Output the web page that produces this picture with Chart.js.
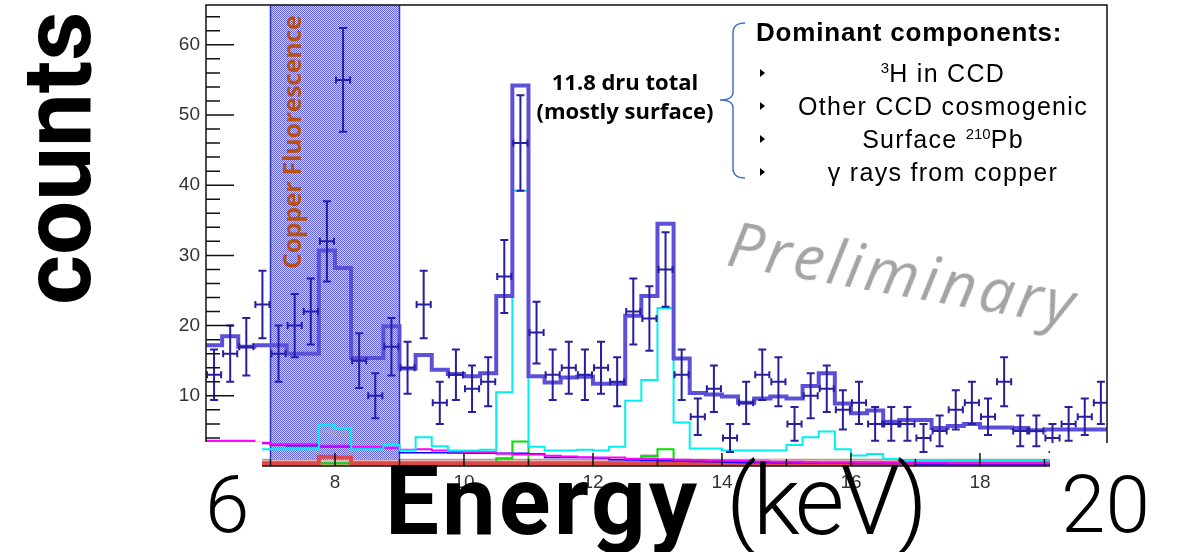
<!DOCTYPE html>
<html>
<head>
<meta charset="utf-8">
<script src="https://cdn.jsdelivr.net/npm/chart.js@4.4.0/dist/chart.umd.min.js"></script>
<style>
body { margin: 0; background: #fff; }
#wrap { position: relative; width: 1181px; height: 552px; overflow: hidden; background: #fff; }
#wrap canvas { position: absolute; left: 0; top: 0; }
.ov { position: absolute; white-space: nowrap; }
.tri { position: absolute; width: 0; height: 0; border-left: 5px solid #000; border-top: 4.5px solid transparent; border-bottom: 4.5px solid transparent; }
.item { position: absolute; left: 793px; width: 300px; text-align: center; font: 25px/25px 'Liberation Sans', Arial, sans-serif; letter-spacing: 1.3px; color: #000; }
.sup { position: relative; top: -9px; font-size: 15px; letter-spacing: 0; }
</style>
</head>
<body>
<div id="wrap">
  <canvas id="chart" width="1181" height="552"></canvas>

  <!-- white boxes pasted over the axis corners -->
  <div class="ov" style="left:195px;top:442px;width:67px;height:110px;background:#fff"></div>
  <div class="ov" style="left:1050px;top:443px;width:131px;height:109px;background:#fff"></div>

  <div class="ov" style="left:9px;top:305px;transform-origin:0 0;transform:rotate(-90deg);font:700 96px/96px Roboto, sans-serif;color:#000">counts</div>

  <div class="ov" style="left:205px;top:465px;font:300 80px/80px Roboto, sans-serif;color:#000">6</div>
  <div class="ov" style="left:1061px;top:465px;font:300 80px/80px Roboto, sans-serif;color:#000">20</div>
  <div class="ov" style="left:385px;top:453px;font:700 96px/96px Roboto, sans-serif;letter-spacing:3px;color:#000">Energy</div>
  <div class="ov" style="left:726px;top:453px;font:300 96px/96px Roboto, sans-serif;letter-spacing:-4px;color:#000">(keV)</div>

  <div class="ov" style="left:279px;top:269px;transform-origin:0 0;transform:rotate(-90deg);font:700 25px/25px 'Open Sans', sans-serif;letter-spacing:-0.3px;color:#b8520f">Copper Fluorescence</div>

  <div class="ov" style="left:725px;top:210px;transform-origin:0 55px;transform:rotate(10deg);font:italic 62px/62px 'Open Sans', sans-serif;letter-spacing:3.5px;color:#a4a4a4">Preliminary</div>

  <div class="ov" style="left:525px;top:67px;width:200px;text-align:center;font:700 22px/29.3px 'Open Sans', sans-serif;color:#000">11.8 dru total<br>(mostly surface)</div>

  <svg class="ov" style="left:0;top:0" width="1181" height="552">
    <path d="M745 23 Q733 23 733 33 L733 92 Q733 100 720 100 Q733 100 733 108 L733 168 Q733 178 745 178" fill="none" stroke="#4472c4" stroke-width="1.5"/>
  </svg>

  <div class="ov" style="left:756px;top:19px;font:700 26px/26px 'Liberation Sans', Arial, sans-serif;letter-spacing:0.8px;color:#000">Dominant components:</div>
  <div class="tri" style="left:760px;top:69px"></div>
  <div class="tri" style="left:760px;top:102px"></div>
  <div class="tri" style="left:760px;top:135px"></div>
  <div class="tri" style="left:760px;top:168px"></div>
  <div class="item" style="top:61px"><span class="sup">3</span>H in CCD</div>
  <div class="item" style="top:94px">Other CCD cosmogenic</div>
  <div class="item" style="top:127px">Surface <span class="sup">210</span>Pb</div>
  <div class="item" style="top:160px">γ rays from copper</div>
</div>

<script>
// bin low edges (keV), 0.25 keV bins
const BIN_LOW = [6.0, 6.25, 6.5, 6.75, 7.0, 7.25, 7.5, 7.75, 8.0, 8.25, 8.5, 8.75, 9.0, 9.25,
  9.5, 9.75, 10.0, 10.25, 10.5, 10.75, 11.0, 11.25, 11.5, 11.75, 12.0, 12.25, 12.5, 12.75,
  13.0, 13.25, 13.5, 13.75, 14.0, 14.25, 14.5, 14.75, 15.0, 15.25, 15.5, 15.75, 16.0, 16.25,
  16.5, 16.75, 17.0, 17.25, 17.5, 17.75, 18.0, 18.25, 18.5, 18.75, 19.0, 19.25, 19.5, 19.75];
const BIN_W = 0.25;

const COUNTS = [13, 16, 17, 23, 16, 20, 22, 32, 55, 15, 10, 17, 14, 23, 9, 13, 11, 12, 27, 46,
  19, 13, 14, 13, 14, 12, 22, 21, 28, 13, 7, 11, 4, 9, 13, 12, 6, 10, 11, 8,
  9, 6, 6, 6, 4, 5, 8, 9, 7, 12, 5, 5, 4, 6, 7, 9];
const COUNT_ERR = [3.6, 4.0, 4.1, 4.8, 4.0, 4.5, 4.7, 5.7, 7.4, 3.9, 3.2, 4.1, 3.7, 4.8, 3.0, 3.6, 3.3, 3.5, 5.2, 6.8,
  4.4, 3.6, 3.7, 3.6, 3.7, 3.5, 4.7, 4.6, 5.3, 3.6, 2.6, 3.3, 2.0, 3.0, 3.6, 3.5, 2.4, 3.2, 3.3, 2.8,
  3.0, 2.4, 2.4, 2.4, 2.0, 2.2, 2.8, 3.0, 2.6, 3.5, 2.2, 2.2, 2.0, 2.4, 2.6, 3.0];

const MODEL_TOTAL = [17.2, 18.5, 17.0, 17.2, 17.2, 16.0, 16.0, 30.7, 28.2, 15.4, 15.4, 19.9, 13.9, 15.8,
  13.7, 13.1, 12.8, 13.2, 24.2, 54.2, 12.8, 11.9, 12.6, 12.7, 11.7, 11.7, 21.4, 24.2,
  34.5, 15.3, 10.4, 10.2, 9.9, 9.0, 9.6, 9.9, 9.6, 11.4, 13.2, 8.9, 7.5, 7.9,
  6.3, 6.55, 6.55, 5.4, 5.7, 6.0, 5.5, 5.5, 5.4, 5.1, 5.2, 5.2, 5.2, 5.2];
const COMP_CYAN = [2.4, 2.4, 2.4, 2.4, 2.4, 2.4, 2.4, 5.8, 5.4, 2.4, 2.4, 3.0, 2.2, 4.1,
  2.8, 2.2, 2.2, 2.3, 10.5, 39.2, 2.75, 2.2, 2.2, 2.3, 2.2, 2.75, 9.3, 12.25,
  22.5, 6.2, 2.5, 2.5, 2.2, 2.2, 2.2, 2.2, 3.0, 4.1, 4.9, 2.4, 1.5, 1.7,
  1.0, 0.8, 0.8, 0.8, 0.8, 0.8, 0.8, 0.8, 0.8, 0.8, 0.8, 0.8, 0.8, 0.8];
const COMP_MAGENTA = [3.6, 3.6, 3.6, 3.3, 3.1, 3.1, 3.1, 2.9, 2.9, 2.75, 2.75, 2.6, 2.3, 2.4,
  2.2, 2.1, 2.0, 1.95, 1.75, 1.65, 1.65, 1.45, 1.35, 1.25, 1.2, 1.2, 1.05, 1.0,
  0.95, 0.9, 0.85, 0.8, 0.75, 0.7, 0.65, 0.6, 0.6, 0.55, 0.5, 0.5, 0.5, 0.5,
  0.45, 0.45, 0.45, 0.45, 0.4, 0.4, 0.4, 0.4, 0.4, 0.4, 0.4, 0.4, 0.4, 0.4];
const COMP_BLUE = [3.4, 3.4, 3.4, 3.2, 3.0, 2.9, 2.9, 2.75, 2.75, 2.4, 2.4, 2.6, 1.9, 1.9,
  1.9, 1.85, 1.8, 1.8, 1.8, 1.8, 1.75, 1.2, 1.2, 1.2, 1.15, 0.9, 0.85, 0.8,
  0.75, 0.7, 0.65, 0.6, 0.55, 0.5, 0.5, 0.45, 0.45, 0.4, 0.4, 0.4, 0.35, 0.35,
  0.35, 0.35, 0.3, 0.3, 0.3, 0.3, 0.3, 0.3, 0.3, 0.3, 0.3, 0.3, 0.3, 0.3];
const COMP_GREEN = [0.4, 0.4, 0.4, 0.4, 0.4, 0.4, 0.4, 0.4, 0.4, 0.4, 0.4, 0.4, 0.4, 0.4,
  0.4, 0.4, 0.4, 0.4, 1.1, 3.5, 0.4, 0.4, 0.4, 0.4, 0.4, 0.4, 0.4, 1.4,
  2.4, 0.4, 0.4, 0.4, 0.4, 0.4, 0.4, 0.4, 0.4, 0.4, 0.4, 0.4, 0.5, 0.4,
  0.5, 0.4, 0.4, 0.4, 0.4, 0.4, 0.4, 0.4, 0.4, 0.4, 0.4, 0.4, 0.4, 0.4];
const COMP_GRAY = [0.9, 0.9, 0.9, 0.9, 0.9, 0.9, 0.9, 4.9, 4.5, 0.9, 0.9, 0.9, 0.9, 0.9,
  0.9, 0.9, 0.9, 0.9, 0.9, 0.9, 0.9, 0.9, 0.9, 0.9, 0.9, 0.9, 0.9, 1.5,
  0.9, 0.9, 0.9, 0.9, 0.9, 0.9, 0.9, 0.9, 0.9, 0.9, 0.9, 0.9, 0.9, 0.9,
  0.9, 0.9, 0.9, 0.9, 0.9, 0.9, 0.9, 0.9, 0.9, 0.9, 0.9, 0.9, 0.9, 0.9];
const COMP_PINK = [0.7, 0.7, 0.7, 0.7, 0.7, 0.7, 0.7, 0.7, 0.7, 0.7, 0.7, 0.7, 0.7, 0.7,
  0.7, 0.7, 0.7, 0.7, 0.7, 0.7, 0.7, 0.7, 0.7, 0.7, 0.7, 0.7, 0.7, 1.2,
  0.7, 0.7, 0.7, 0.7, 0.7, 0.7, 0.7, 0.9, 0.7, 0.7, 0.7, 0.7, 0.7, 0.7,
  0.7, 0.7, 0.7, 0.7, 0.7, 0.7, 0.7, 0.7, 0.7, 0.7, 0.7, 0.7, 0.7, 0.7];
const COMP_RED = [0.4, 0.4, 0.4, 0.4, 0.4, 0.4, 0.4, 1.3, 1.2, 0.4, 0.4, 0.4, 0.4, 0.4,
  0.4, 0.4, 0.4, 0.4, 0.4, 0.4, 0.4, 0.4, 0.4, 0.4, 0.4, 0.4, 0.4, 0.4,
  0.4, 0.4, 0.4, 0.4, 0.4, 0.4, 0.4, 0.4, 0.4, 0.4, 0.4, 0.4, 0.4, 0.4,
  0.4, 0.4, 0.4, 0.4, 0.4, 0.4, 0.4, 0.4, 0.4, 0.4, 0.4, 0.4, 0.4, 0.4];
const COMP_TAN = [0.15, 0.15, 0.15, 0.15, 0.15, 0.15, 0.15, 0.15, 0.15, 0.15, 0.15, 0.15, 0.15, 0.15,
  0.15, 0.15, 0.15, 0.15, 0.15, 0.15, 0.15, 0.15, 0.15, 0.15, 0.15, 0.15, 0.15, 0.15,
  0.15, 0.15, 0.15, 0.15, 0.15, 0.15, 0.15, 0.15, 0.15, 0.15, 0.15, 0.15, 0.15, 0.15,
  0.15, 0.15, 0.15, 0.15, 0.15, 0.15, 0.15, 0.15, 0.15, 0.15, 0.15, 0.15, 0.15, 0.15];

const CU_BAND = [7, 9];
const X_RANGE = [6, 19.97];
const Y_RANGE = [0, 65.67];
const X_TICKS = [8, 10, 12, 14, 16, 18];
const X_MINOR = [7, 9, 11, 13, 15, 17, 19];
const Y_TICKS = [10, 20, 30, 40, 50, 60];
const Y_MINOR = [2, 4, 6, 8, 12, 14, 16, 18, 22, 24, 26, 28, 32, 34, 36, 38, 42, 44, 46, 48, 52, 54, 56, 58, 62, 64];

function histPoints(values) {
    const pts = BIN_LOW.map((x, i) => ({ x: x, y: values[i] }));
    pts.push({ x: BIN_LOW[BIN_LOW.length - 1] + BIN_W, y: values[values.length - 1] });
    return pts;
}

function histLine(values, color, width) {
    return {
        type: 'line', data: histPoints(values), borderColor: color, borderWidth: width,
        stepped: true, pointRadius: 0, fill: false
    };
}

function bandPattern(ctx) {
    const c = document.createElement('canvas');
    c.width = 2; c.height = 2;
    const p = c.getContext('2d');
    p.fillStyle = '#d0d0f8';
    p.fillRect(0, 0, 2, 2);
    p.fillStyle = '#6464e6';
    p.fillRect(0, 0, 1, 1);
    p.fillRect(1, 1, 1, 1);
    return ctx.createPattern(c, 'repeat');
}

const rootStyle = {
    id: 'rootStyle',
    beforeDatasetsDraw(chart) {
        const { ctx, chartArea: a, scales: { x } } = chart;
        const x0 = x.getPixelForValue(CU_BAND[0]);
        const x1 = x.getPixelForValue(CU_BAND[1]);
        ctx.save();
        ctx.fillStyle = bandPattern(ctx);
        ctx.fillRect(x0, a.top, x1 - x0, a.bottom - a.top);
        ctx.strokeStyle = '#3232c8';
        ctx.lineWidth = 1.5;
        ctx.beginPath();
        ctx.moveTo(x0, a.top); ctx.lineTo(x0, a.bottom);
        ctx.moveTo(x1, a.top); ctx.lineTo(x1, a.bottom);
        ctx.stroke();
        ctx.restore();
    },
    afterDatasetsDraw(chart) {
        const { ctx, chartArea: a, scales: { x, y } } = chart;
        ctx.save();

        // data points with error bars
        ctx.beginPath();
        ctx.rect(a.left, a.top, a.right - a.left, a.bottom - a.top);
        ctx.clip();
        ctx.strokeStyle = 'rgb(40,30,160)';
        ctx.lineWidth = 2;
        ctx.beginPath();
        COUNTS.forEach((n, i) => {
            const px = x.getPixelForValue(BIN_LOW[i] + BIN_W / 2);
            const pl = x.getPixelForValue(BIN_LOW[i]) + 1;
            const pr = x.getPixelForValue(BIN_LOW[i] + BIN_W) - 1;
            const py = y.getPixelForValue(n);
            const pt = y.getPixelForValue(n + COUNT_ERR[i]);
            const pb = y.getPixelForValue(n - COUNT_ERR[i]);
            ctx.moveTo(px, pt); ctx.lineTo(px, pb);
            ctx.moveTo(px - 4, pt); ctx.lineTo(px + 4, pt);
            ctx.moveTo(px - 4, pb); ctx.lineTo(px + 4, pb);
            ctx.moveTo(pl, py); ctx.lineTo(pr, py);
            ctx.moveTo(pl, py - 3.5); ctx.lineTo(pl, py + 3.5);
            ctx.moveTo(pr, py - 3.5); ctx.lineTo(pr, py + 3.5);
        });
        ctx.stroke();
        ctx.restore();

        // frame and ticks
        ctx.save();
        ctx.strokeStyle = '#111';
        ctx.lineWidth = 1.5;
        ctx.strokeRect(a.left, a.top, a.right - a.left, a.bottom - a.top);
        ctx.beginPath();
        Y_TICKS.forEach(v => { const py = y.getPixelForValue(v); ctx.moveTo(a.left, py); ctx.lineTo(a.left + 28, py); });
        Y_MINOR.forEach(v => { const py = y.getPixelForValue(v); ctx.moveTo(a.left, py); ctx.lineTo(a.left + 14, py); });
        X_TICKS.forEach(v => { const px = x.getPixelForValue(v); ctx.moveTo(px, a.bottom); ctx.lineTo(px, a.bottom - 13); });
        X_MINOR.forEach(v => { const px = x.getPixelForValue(v); ctx.moveTo(px, a.bottom); ctx.lineTo(px, a.bottom - 7); });
        ctx.stroke();

        ctx.fillStyle = '#333';
        ctx.font = '19px "Liberation Sans", Arial, sans-serif';
        ctx.textAlign = 'right';
        ctx.textBaseline = 'middle';
        Y_TICKS.forEach(v => ctx.fillText(String(v), a.left - 6, y.getPixelForValue(v)));
        ctx.textAlign = 'center';
        ctx.textBaseline = 'top';
        X_TICKS.forEach(v => ctx.fillText(String(v), x.getPixelForValue(v), a.bottom + 7));
        ctx.restore();
    }
};

new Chart(document.getElementById('chart'), {
    type: 'line',
    data: {
        datasets: [
            histLine(MODEL_TOTAL, 'rgb(92,80,216)', 4),
            histLine(COMP_CYAN, '#00f0f0', 2),
            histLine(COMP_MAGENTA, '#ff00ff', 2),
            histLine(COMP_BLUE, '#0000ff', 1.5),
            histLine(COMP_RED, '#dd4848', 4),
            histLine(COMP_GREEN, '#00e000', 2),
            histLine(COMP_PINK, '#e8b4b4', 2),
            histLine(COMP_GRAY, '#a89ca4', 2),
            histLine(COMP_TAN, '#e0a070', 2)
        ]
    },
    options: {
        responsive: false,
        animation: false,
        devicePixelRatio: 1,
        layout: { padding: { left: 206, right: 74, top: 5, bottom: 86 } },
        scales: {
            x: { type: 'linear', min: X_RANGE[0], max: X_RANGE[1], display: false },
            y: { type: 'linear', min: Y_RANGE[0], max: Y_RANGE[1], display: false }
        },
        plugins: { legend: { display: false }, tooltip: { enabled: false } }
    },
    plugins: [rootStyle]
});
</script>
</body>
</html>
